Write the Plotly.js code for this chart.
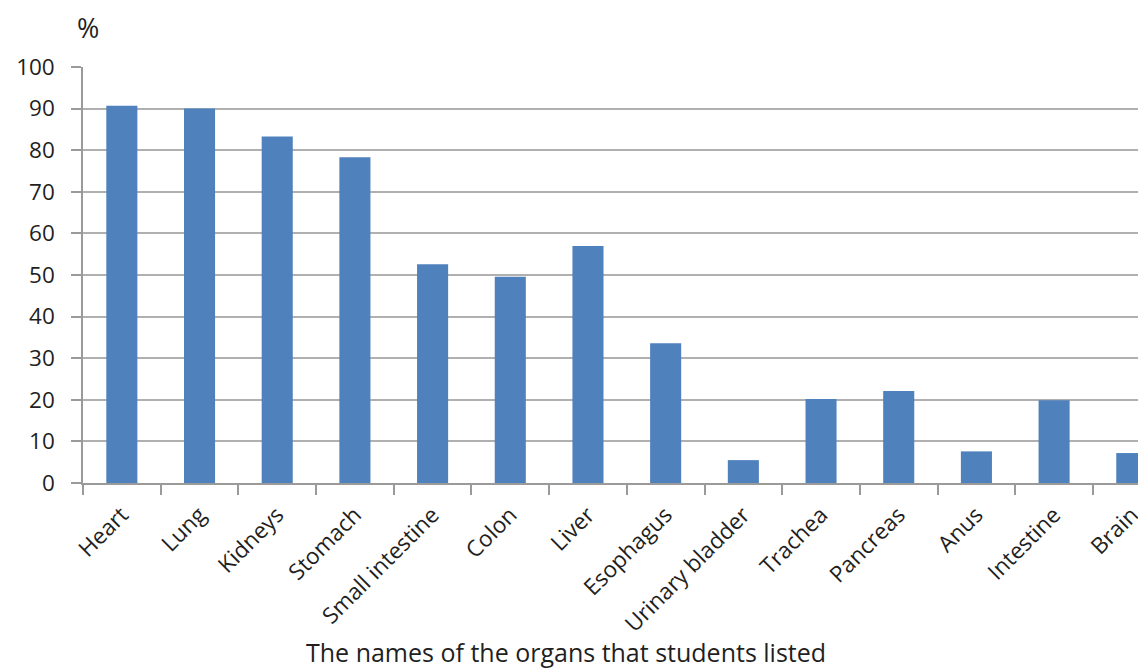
<!DOCTYPE html>
<html>
<head>
<meta charset="utf-8">
<script src="https://cdn.plot.ly/plotly-3.0.1.min.js"></script>
<style>html,body{margin:0;padding:0;background:#fff;overflow:hidden}</style>
</head>
<body>
<div id="chart" style="width:1138px;height:672px"></div>
<script>
const organs = ["Heart","Lung","Kidneys","Stomach","Small intestine","Colon","Liver","Esophagus","Urinary bladder","Trachea","Pancreas","Anus","Intestine","Brain"];
const percents = [90.7, 90.0, 83.3, 78.3, 52.6, 49.6, 57.0, 33.6, 5.5, 20.2, 22.1, 7.6, 19.9, 7.2];
const yTicks = [0,10,20,30,40,50,60,70,80,90,100];

const FONT = "Open Sans, Noto Sans, sans-serif";
const TXT = "#1f1f1f";

Plotly.newPlot("chart", [{
  type: "bar",
  x: organs,
  y: percents,
  marker: {color: "#4F81BD", line: {width: 0}},
  hoverinfo: "x+y"
}], {
  width: 1138, height: 672,
  margin: {l: 83, r: 0, t: 67, b: 189},
  paper_bgcolor: "#fff", plot_bgcolor: "#fff",
  bargap: 0.6,
  showlegend: false,
  font: {family: FONT, color: TXT},
  xaxis: {
    type: "category",
    range: [-0.5, 13.08],
    tickangle: -45,
    tickfont: {size: 22.5, family: FONT, color: TXT},
    showline: true, linecolor: "#9a9a9a", linewidth: 1.5,
    ticks: "outside", ticklen: 10, tickcolor: "#9a9a9a", tickwidth: 1.5,
    tickson: "boundaries",
    showgrid: false, zeroline: false,
    ticklabelstandoff: 8,
    fixedrange: true
  },
  yaxis: {
    range: [0, 100],
    tickvals: yTicks,
    tickfont: {size: 22.5, family: FONT, color: TXT},
    showline: true, linecolor: "#9a9a9a", linewidth: 1.5,
    ticks: "outside", ticklen: 10, tickcolor: "#9a9a9a", tickwidth: 1.5,
    showgrid: true, gridcolor: "#b0b0b0", gridwidth: 1.5,
    zeroline: false,
    ticklabelstandoff: 12,
    fixedrange: true
  },
  annotations: [
    {text: "The names of the organs that students listed", xref: "paper", yref: "paper",
     x: (566 - 83) / 1055, y: -0.407, xanchor: "center", yanchor: "middle", showarrow: false,
     font: {size: 25, family: FONT, color: TXT}},
    {text: "%", xref: "paper", yref: "paper",
     x: (88 - 83) / 1055, y: 1.094, xanchor: "center", yanchor: "middle", showarrow: false,
     font: {size: 27, family: FONT, color: TXT}}
  ]
}, {displayModeBar: false});
</script>
</body>
</html>
